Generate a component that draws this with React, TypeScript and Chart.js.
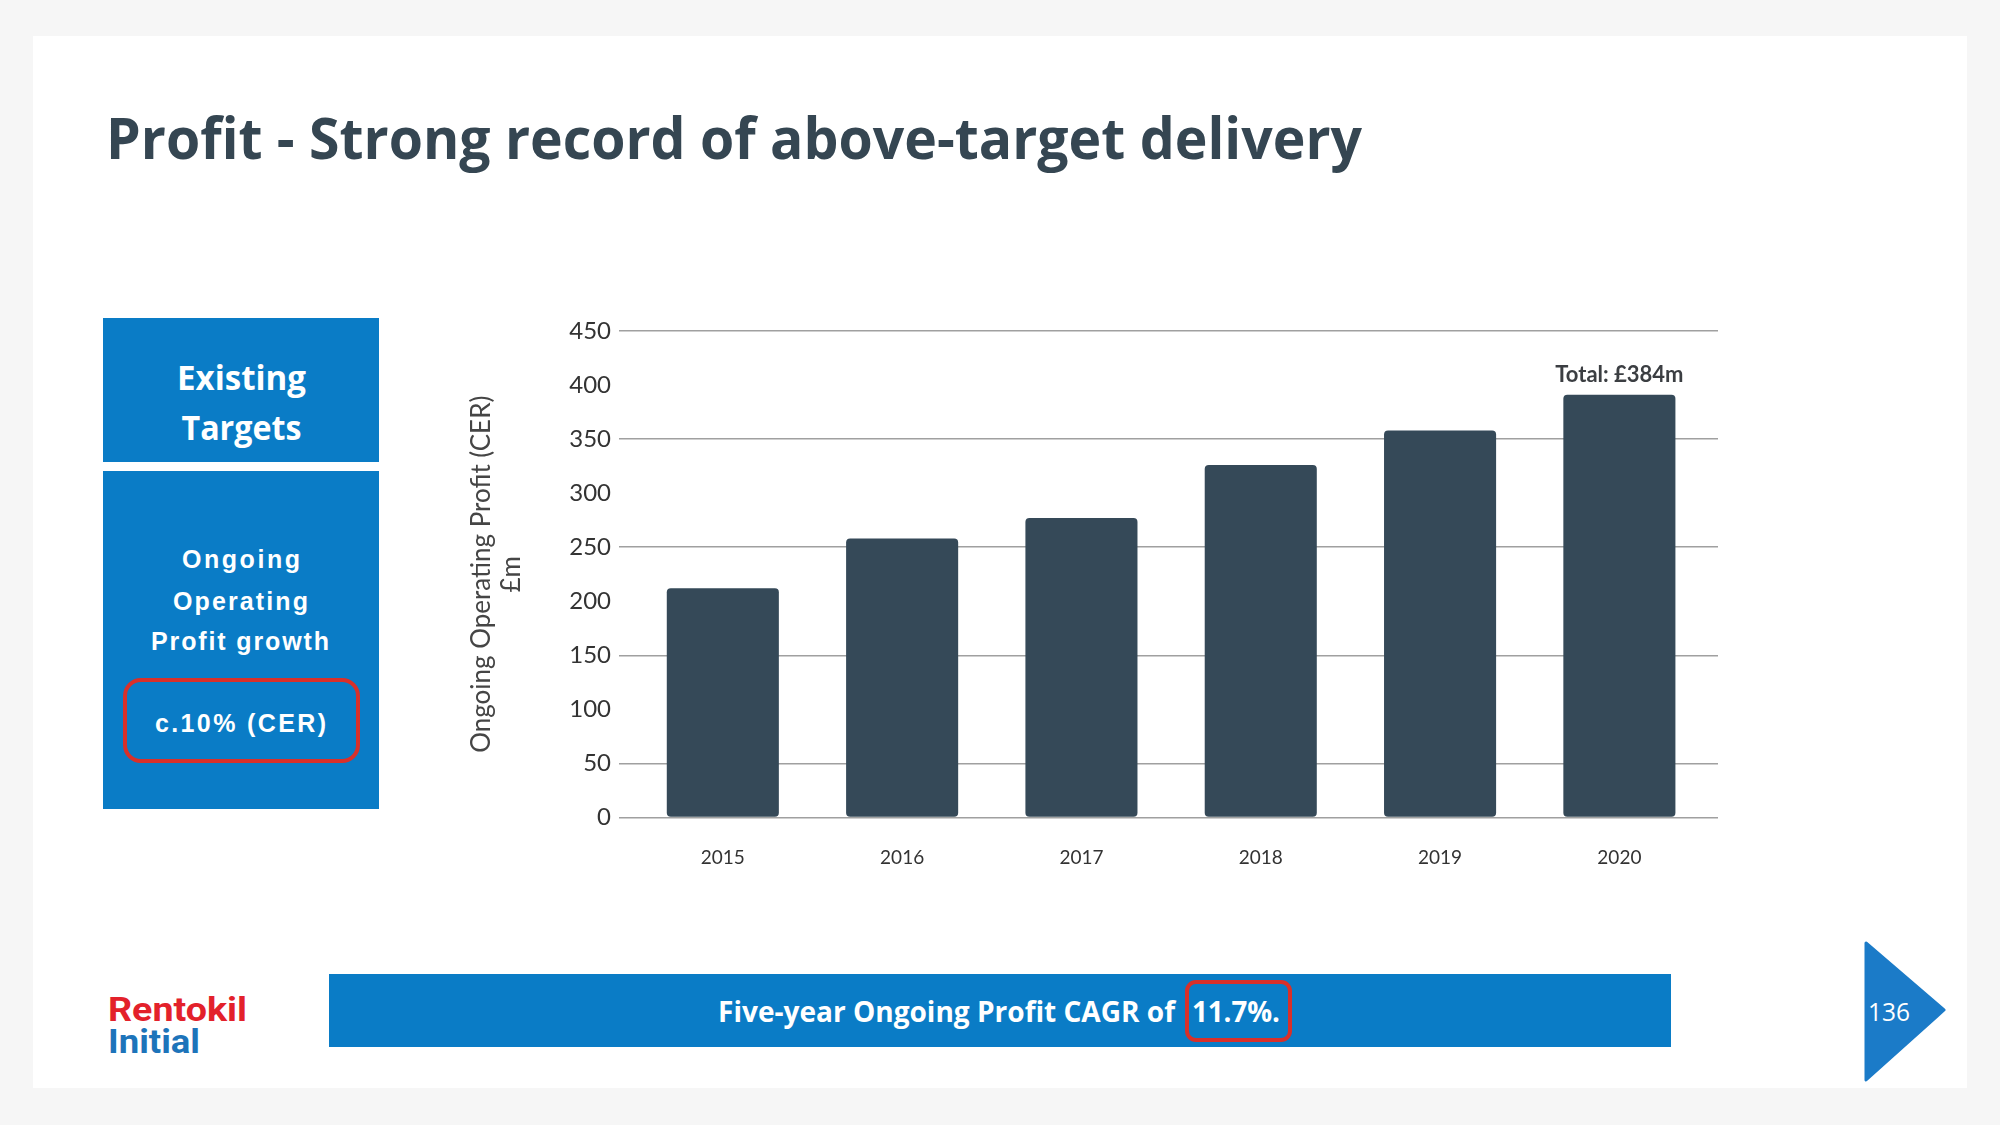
import React, { useEffect, useRef } from 'react';
import { Chart, registerables } from 'chart.js';

Chart.register(...registerables);

// ---- data ----
const categories = ['2015', '2016', '2017', '2018', '2019', '2020'];
const profitValues = [212, 258, 277, 326, 358, 391];
const yTickValues = [0, 50, 100, 150, 200, 250, 300, 350, 400, 450];
const gridLineValues = [0, 50, 150, 250, 350, 450];
const yAxisTitle = ['Ongoing Operating Profit (CER)', '£m'];
const totalLabel = 'Total: £384m';

const slideTitle = 'Profit - Strong record of above-target delivery';
const boxHeading = ['Existing', 'Targets'];
const boxBody = ['Ongoing', 'Operating', 'Profit growth'];
const boxTarget = 'c.10% (CER)';
const bannerText = 'Five-year Ongoing Profit CAGR of';
const bannerValue = '11.7%.';
const pageNumber = '136';
const logoLines = ['Rentokil', 'Initial'];

const BLUE = '#0a7cc6';
const RED = '#d8302a';
const BAR = '#354958';

const totalLabelPlugin = {
  id: 'totalLabel',
  afterDatasetsDraw(chart: any) {
    const meta = chart.getDatasetMeta(0);
    const bar = meta.data[meta.data.length - 1];
    if (!bar) return;
    const ctx = chart.ctx;
    ctx.save();
    ctx.font = '700 22px Lato';
    ctx.fillStyle = '#3b3e42';
    ctx.textAlign = 'center';
    ctx.textBaseline = 'alphabetic';
    ctx.fillText(totalLabel, bar.x, bar.y - 12.5);
    ctx.restore();
  },
};

function ProfitChart() {
  const ref = useRef<HTMLCanvasElement | null>(null);
  useEffect(() => {
    let chart: Chart | null = null;
    let cancelled = false;
    const make = () => {
      if (cancelled || !ref.current) return;
      chart = new Chart(ref.current, {
        type: 'bar',
        data: {
          datasets: [
            {
              data: profitValues.map((v, i) => ({ x: i, y: v })),
              backgroundColor: BAR,
              borderRadius: 4,
              borderSkipped: false,
              barPercentage: 0.625,
              categoryPercentage: 1,
            },
          ],
        },
        options: {
          animation: false,
          responsive: false,
          devicePixelRatio: 1,
          layout: { padding: { top: 31, right: 42, left: 0, bottom: 0 } },
          plugins: { legend: { display: false }, tooltip: { enabled: false } },
          scales: {
            x: {
              type: 'linear',
              offset: false,
              min: -0.579,
              max: 5.55,
              grid: { display: false, offset: false },
              border: { display: false },
              afterBuildTicks: (axis: any) => {
                axis.ticks = categories.map((_, i) => ({ value: i }));
              },
              afterFit: (axis: any) => {
                axis.height = 82.5;
              },
              ticks: {
                autoSkip: false,
                maxRotation: 0,
                padding: 21,
                color: '#333333',
                font: { family: 'Lato', size: 19 },
                callback: (v: any) => categories[v] ?? '',
              },
            },
            y: {
              min: 0,
              max: 450,
              afterBuildTicks: (axis: any) => {
                axis.ticks = yTickValues.map((v) => ({ value: v }));
              },
              afterFit: (axis: any) => {
                axis.width = 179;
              },
              border: { display: false },
              grid: {
                drawTicks: false,
                lineWidth: 1.5,
                color: (c: any) =>
                  c.tick && gridLineValues.includes(c.tick.value) ? '#a0a0a0' : 'rgba(0,0,0,0)',
              },
              ticks: {
                padding: 8,
                color: '#333333',
                font: { family: 'Lato', size: 24 },
              },
              title: {
                display: true,
                text: yAxisTitle,
                color: '#454545',
                font: { family: 'Lato', size: 26, lineHeight: 1.14 },
                padding: { top: 27, bottom: 0 },
              },
            },
          },
        },
        plugins: [totalLabelPlugin],
      } as any);
    };
    const fonts = (document as any).fonts;
    if (fonts && fonts.load) {
      Promise.all([fonts.load('24px Lato'), fonts.load('700 22px Lato')]).then(make, make);
    } else {
      make();
    }
    return () => {
      cancelled = true;
      if (chart) chart.destroy();
    };
  }, []);
  return (
    <canvas
      ref={ref}
      width={1320}
      height={600}
      style={{ position: 'absolute', left: 440, top: 300, width: 1320, height: 600 }}
    />
  );
}

export default function App() {
  const os = "'Open Sans', sans-serif";
  const ar = "'Liberation Sans', Arial, sans-serif";
  const rb = "Roboto, 'Open Sans', sans-serif";
  return (
    <div
      style={{
        position: 'fixed',
        left: 0,
        top: 0,
        width: 2000,
        height: 1125,
        background: '#f6f6f6',
        overflow: 'hidden',
      }}
    >
      <svg
        width={2000}
        height={1125}
        style={{ position: 'absolute', left: 0, top: 0 }}
        xmlns="http://www.w3.org/2000/svg"
      >
        <rect x={33} y={36} width={1934} height={1052} fill="#ffffff" />
        <text
          x={106}
          y={159}
          fontFamily={os}
          fontWeight={700}
          fontSize={58}
          fill="#354652"
          textLength={1256}
          lengthAdjust="spacingAndGlyphs"
        >
          {slideTitle}
        </text>

        <rect x={103} y={318} width={276} height={144} fill={BLUE} />
        <text x={241.5} y={390} textAnchor="middle" fontFamily={os} fontWeight={700} fontSize={34} fill="#fff" textLength={129} lengthAdjust="spacingAndGlyphs">
          {boxHeading[0]}
        </text>
        <text x={241.5} y={440} textAnchor="middle" fontFamily={os} fontWeight={700} fontSize={34} fill="#fff" textLength={120} lengthAdjust="spacingAndGlyphs">
          {boxHeading[1]}
        </text>

        <rect x={103} y={471} width={276} height={338} fill={BLUE} />
        <text x={241} y={568} textAnchor="middle" fontFamily={ar} fontWeight={700} fontSize={25} fill="#fff" textLength={118} lengthAdjust="spacing">
          {boxBody[0]}
        </text>
        <text x={240.5} y={610} textAnchor="middle" fontFamily={ar} fontWeight={700} fontSize={25} fill="#fff" textLength={135} lengthAdjust="spacing">
          {boxBody[1]}
        </text>
        <text x={240} y={650} textAnchor="middle" fontFamily={ar} fontWeight={700} fontSize={25} fill="#fff" textLength={178} lengthAdjust="spacing">
          {boxBody[2]}
        </text>
        <rect x={125} y={680} width={233} height={81} rx={16} ry={16} fill="none" stroke={RED} strokeWidth={4} />
        <text x={240.5} y={732} textAnchor="middle" fontFamily={ar} fontWeight={700} fontSize={25} fill="#fff" textLength={171} lengthAdjust="spacing">
          {boxTarget}
        </text>

        <rect x={329} y={974} width={1342} height={73} fill={BLUE} />
        <text x={718} y={1022} fontFamily={os} fontWeight={700} fontSize={29} fill="#fff" textLength={457} lengthAdjust="spacingAndGlyphs">
          {bannerText}
        </text>
        <text x={1192} y={1022} fontFamily={os} fontWeight={700} fontSize={29} fill="#fff" textLength={88} lengthAdjust="spacingAndGlyphs">
          {bannerValue}
        </text>
        <rect x={1187} y={982} width={103} height={58} rx={9} ry={9} fill="none" stroke={RED} strokeWidth={4} />

        <text x={108} y={1021} fontFamily={rb} fontWeight={700} fontSize={34} fill="#e3212b" textLength={139} lengthAdjust="spacingAndGlyphs">
          {logoLines[0]}
        </text>
        <text x={108} y={1053} fontFamily={rb} fontWeight={700} fontSize={34} fill="#1d74ba" textLength={92} lengthAdjust="spacingAndGlyphs">
          {logoLines[1]}
        </text>

        <polygon
          points="1866,943 1944,1010 1866,1080"
          fill="#1b7bc8"
          stroke="#1b7bc8"
          strokeWidth={3}
          strokeLinejoin="round"
        />
        <text x={1868} y={1021} fontFamily={os} fontWeight={400} fontSize={26} fill="#fff" textLength={42} lengthAdjust="spacingAndGlyphs">
          {pageNumber}
        </text>
      </svg>
      <ProfitChart />
    </div>
  );
}
